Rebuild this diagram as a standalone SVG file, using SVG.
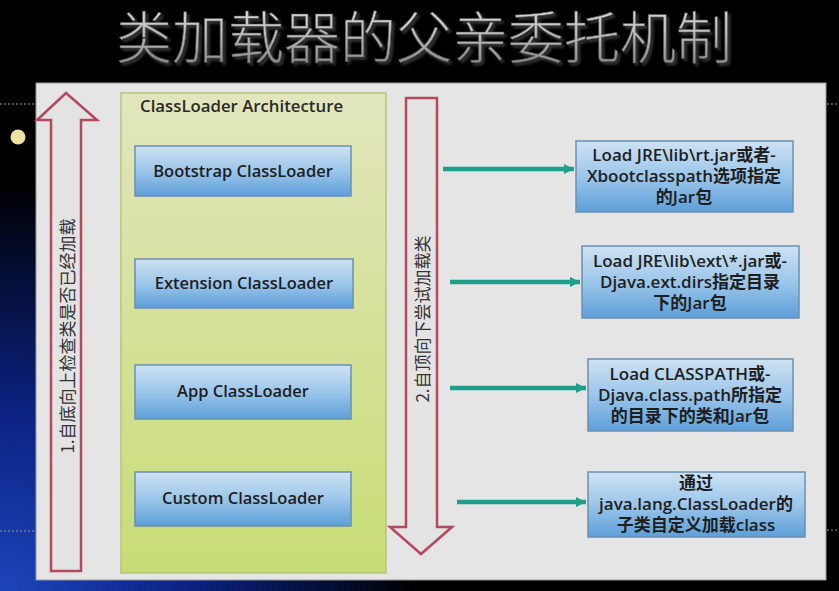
<svg xmlns="http://www.w3.org/2000/svg" width="839" height="591" viewBox="0 0 839 591">
  <defs>
    <radialGradient id="bgBlue" cx="0" cy="600" r="420" gradientUnits="userSpaceOnUse">
      <stop offset="0" stop-color="#1d46bc"/>
      <stop offset="0.45" stop-color="#0b2282"/>
      <stop offset="1" stop-color="#000000"/>
    </radialGradient>
    <linearGradient id="titleGrad" x1="0" y1="0" x2="0" y2="1">
      <stop offset="0" stop-color="#e8e8e8"/>
      <stop offset="0.5" stop-color="#bdbdbd"/>
      <stop offset="1" stop-color="#7a7a7a"/>
    </linearGradient>
    <filter id="titleShadow" x="-5%" y="-30%" width="110%" height="160%">
      <feDropShadow dx="2.5" dy="2.5" stdDeviation="1.2" flood-color="#3a3a3a" flood-opacity="0.9"/>
    </filter>
    <linearGradient id="archGrad" x1="0" y1="0" x2="0" y2="1">
      <stop offset="0" stop-color="#e2e6bd"/>
      <stop offset="1" stop-color="#c7dc74"/>
    </linearGradient>
    <linearGradient id="blueGrad" x1="0" y1="0" x2="0" y2="1">
      <stop offset="0" stop-color="#cde2f3"/>
      <stop offset="0.5" stop-color="#9cc6ea"/>
      <stop offset="1" stop-color="#5d9fd8"/>
    </linearGradient>
    <marker id="teal" markerUnits="userSpaceOnUse" markerWidth="12" markerHeight="12" refX="10" refY="6" orient="auto">
      <path d="M0,1 L10,6 L0,11 Z" fill="#1f9e8c"/>
    </marker>
    <style>
      .panel { fill: #e5e5e5; stroke: #9a9a9a; stroke-width: 1; }
      .redArrow { fill: #e3e3e3; stroke: #b5475f; stroke-width: 2.5; stroke-linejoin: miter; }
      .vtext { font-family: "Noto Sans CJK SC", "DejaVu Sans", sans-serif; font-size: 17px; fill: #333333; text-anchor: middle; dominant-baseline: central; }
      .arch { fill: url(#archGrad); stroke: #b7c47e; stroke-width: 1.5; }
      .archLabel { font-family: "Open Sans", "Noto Sans CJK SC", sans-serif; font-size: 16.8px; font-weight: 600; fill: #2a2a2a; }
      .node rect { fill: url(#blueGrad); stroke: #6a90b2; stroke-width: 1.5; }
      .node text { font-family: "Open Sans", "Noto Sans CJK SC", sans-serif; font-size: 16.5px; font-weight: 600; fill: #1e1e1e; text-anchor: middle; }
      .info rect { fill: url(#blueGrad); stroke: #6a90b2; stroke-width: 1.5; }
      .info text { font-family: "Open Sans", "Noto Sans CJK SC", sans-serif; font-size: 17px; font-weight: 600; fill: #1e1e1e; text-anchor: middle; }
      .conn { stroke: #1f9e8c; stroke-width: 4.5; fill: none; marker-end: url(#teal); }
      .dash { stroke: #9a9a9a; stroke-width: 1; stroke-dasharray: 2 2; }
    </style>
  </defs>

  <!-- background -->
  <rect x="0" y="0" width="839" height="591" fill="#000000"/>
  <rect x="0" y="0" width="839" height="591" fill="url(#bgBlue)"/>
  <line class="dash" x1="0" y1="104" x2="36" y2="104"/>
  <line class="dash" x1="0" y1="531" x2="36" y2="531"/>
  <line class="dash" x1="827" y1="104" x2="839" y2="104"/>
  <line class="dash" x1="827" y1="530" x2="839" y2="530"/>
  <circle cx="18" cy="137" r="7.5" fill="#f0e2a0"/>

  <!-- title -->
  <g id="title">
    <text x="424" y="58" text-anchor="middle" font-family="Noto Sans CJK SC, sans-serif" font-size="56" font-weight="300" fill="url(#titleGrad)" stroke="#555" stroke-width="0.6" filter="url(#titleShadow)">类加载器的父亲委托机制</text>
  </g>

  <!-- slide panel -->
  <rect class="panel" x="36" y="83" width="790" height="497"/>

  <!-- upward check arrow -->
  <g id="arrow-up">
    <path class="redArrow" d="M51,571 L51,120 L37,120 L66,93 L97,120 L81,120 L81,571 Z"/>
    <text class="vtext" transform="translate(66,336) rotate(-90)">1.自底向上检查类是否已经加载</text>
  </g>

  <!-- architecture box -->
  <g id="architecture">
    <rect class="arch" x="121" y="93" width="265" height="480"/>
    <text class="archLabel" x="140" y="112">ClassLoader Architecture</text>
  </g>

  <g id="bootstrap" class="node">
    <rect x="135" y="146" width="216" height="50"/>
    <text x="243" y="177">Bootstrap ClassLoader</text>
  </g>
  <g id="extension" class="node">
    <rect x="135" y="259" width="218" height="49"/>
    <text x="244" y="289">Extension ClassLoader</text>
  </g>
  <g id="app" class="node">
    <rect x="135" y="365" width="216" height="54"/>
    <text x="243" y="397">App ClassLoader</text>
  </g>
  <g id="custom" class="node">
    <rect x="135" y="472" width="216" height="54"/>
    <text x="243" y="504">Custom ClassLoader</text>
  </g>

  <!-- downward load arrow -->
  <g id="arrow-down">
    <path class="redArrow" d="M406,98 L437,98 L437,527 L452,527 L421,554 L390,527 L406,527 Z"/>
    <text class="vtext" transform="translate(421,319) rotate(-90)">2.自顶向下尝试加载类</text>
  </g>

  <!-- connectors -->
  <g id="connectors">
    <line class="conn" x1="443" y1="169" x2="574" y2="169"/>
    <line class="conn" x1="450" y1="282" x2="580" y2="282"/>
    <line class="conn" x1="450" y1="388" x2="586" y2="388"/>
    <line class="conn" x1="457" y1="502" x2="586" y2="502"/>
  </g>

  <!-- info boxes -->
  <g id="info-bootstrap" class="info">
    <rect x="576" y="141" width="217" height="71"/>
    <text x="684" y="161">Load JRE\lib\rt.jar或者-</text>
    <text x="684" y="182">Xbootclasspath选项指定</text>
    <text x="684" y="203">的Jar包</text>
  </g>
  <g id="info-extension" class="info">
    <rect x="582" y="246" width="217" height="72"/>
    <text x="690" y="267">Load JRE\lib\ext\*.jar或-</text>
    <text x="690" y="288">Djava.ext.dirs指定目录</text>
    <text x="690" y="309">下的Jar包</text>
  </g>
  <g id="info-app" class="info">
    <rect x="588" y="359" width="205" height="72"/>
    <text x="690" y="380">Load CLASSPATH或-</text>
    <text x="690" y="401">Djava.class.path所指定</text>
    <text x="690" y="422">的目录下的类和Jar包</text>
  </g>
  <g id="info-custom" class="info">
    <rect x="588" y="472" width="217" height="65"/>
    <text x="696" y="489">通过</text>
    <text x="696" y="510">java.lang.ClassLoader的</text>
    <text x="696" y="531">子类自定义加载class</text>
  </g>
</svg>
